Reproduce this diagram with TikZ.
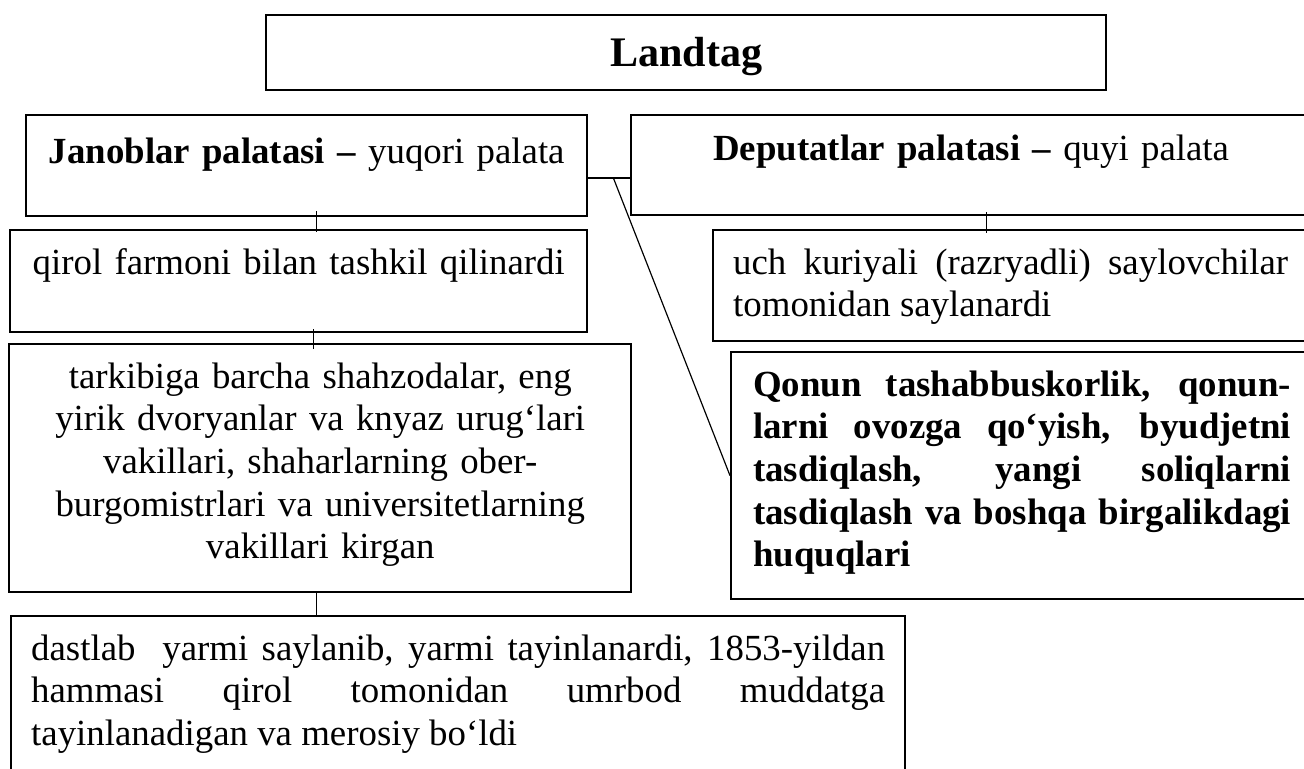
\documentclass[tikz,border=0pt]{standalone}
\usepackage{fontspec}
\setmainfont{Liberation Serif}
\usetikzlibrary{calc}
\hyphenpenalty=10000
\exhyphenpenalty=10000

\begin{document}
\begin{tikzpicture}[
    x=0.38pt, y=-0.38pt,
    box/.style={draw, line width=0.9pt, anchor=north west, inner ysep=0pt,
                inner xsep=0pt, font=\fontsize{14}{16.2}\selectfont},
    lnk/.style={line width=0.45pt}
  ]
    \path[use as bounding box, clip] (0, 0) rectangle (1304, 769);

    \node[box, text width=319.2pt, align=center, text height=19.4pt,
          text depth=9.1pt, font=\fontsize{16}{19}\selectfont\bfseries]
      (land) at (265, 14) {Landtag};
    \node[box, text width=213.2pt, align=center, text height=18.2pt,
          text depth=20.1pt]
      (jan) at (25, 114) {\textbf{Janoblar palatasi –} yuqori palata};
    \node[box, text width=258.4pt, align=center, text height=17.1pt,
          text depth=20.9pt]
      (dep) at (630, 114) {\textbf{Deputatlar palatasi –} quyi palata};
    \node[box, text width=219.3pt, align=center, text height=16.7pt,
          text depth=22pt]
      (qirol) at (9, 229) {qirol farmoni bilan tashkil qilinardi};
    \node[box, inner xsep=7.6pt, text width=210.9pt, align=justify,
          text height=16.7pt, text depth=25.5pt]
      (uch) at (712, 229) {uch kuriyali (razryadli) saylovchilar\linebreak
        tomonidan saylanardi};
    \node[box, text width=236.4pt, align=center, text height=16.7pt,
          text depth=77.5pt]
      (tark) at (8, 343) {tarkibiga barcha shahzodalar, eng\\
        yirik dvoryanlar va knyaz urug‘lari\\
        vakillari, shaharlarning ober-\\
        burgomistrlari va universitetlarning\\
        vakillari kirgan};
    \node[box, inner xsep=8.4pt, text width=204.4pt, align=justify,
          text height=16.7pt, text depth=77.1pt,
          font=\fontsize{14}{16.2}\selectfont\bfseries]
      (qon) at (730, 351) {Qonun tashabbuskorlik, qonun-\linebreak
        larni ovozga qo‘yish, byudjetni\linebreak
        tasdiqlash, yangi soliqlarni\linebreak
        tasdiqlash va boshqa birgalikdagi\linebreak
        huquqlari};
    \node[box, inner xsep=7.6pt, text width=324.5pt, align=justify,
          text height=16.7pt, text depth=60pt]
      (bot) at (10, 615) {dastlab~ yarmi saylanib, yarmi tayinlanardi, 1853-yildan\linebreak
        hammasi qirol tomonidan umrbod muddatga\linebreak
        tayinlanadigan va merosiy bo‘ldi};

    \coordinate (c1) at ($(jan.south)+(9.5,-6)$);
    \coordinate (c2) at ($(qirol.south)+(15,-4)$);
    \coordinate (c3) at ($(tark.south)+(-4,0)$);
    \coordinate (c4) at ($(dep.south)+(15,-4)$);
    \coordinate (c5) at ($(jan.east)+(0,12.5)$);

    \draw[lnk] (c1) -- ($(c1 |- qirol.north)+(0,3)$);
    \draw[lnk] (c2) -- ($(c2 |- tark.north)+(0,6)$);
    \draw[lnk] (c3) -- (c3 |- bot.north);
    \draw[lnk] (c4) -- ($(c4 |- uch.north)+(0,4)$);
    \draw[lnk] (c5) -- (c5 -| dep.west);
    \draw[lnk] ($(c5)+(25,0)$) -- (qon.west);
  \end{tikzpicture}
\end{document}
